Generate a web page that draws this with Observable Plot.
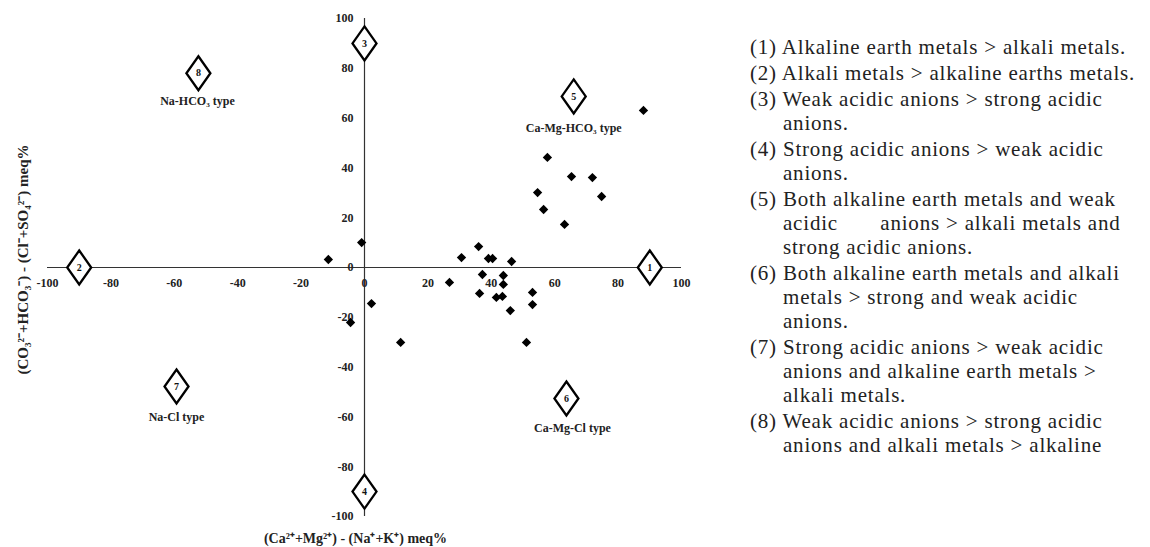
<!DOCTYPE html>
<html>
<head>
<meta charset="utf-8">
<script src="https://cdn.jsdelivr.net/npm/d3@7"></script>
<script src="https://cdn.jsdelivr.net/npm/@observablehq/plot@0.6"></script>
<style>
  html, body { margin: 0; padding: 0; background: #fff; }
  #wrap { position: relative; width: 1150px; height: 547px; overflow: hidden; }
  #chart { position: absolute; left: 0; top: 0; }
  #legend { position: absolute; left: 750px; top: 33px; width: 400px;
    font-family: "Liberation Serif", "Times New Roman", serif; font-size: 21px;
    line-height: 24px; color: #222; letter-spacing: 0.8px; }
  #legend div { padding-left: 33px; text-indent: -33px; white-space: nowrap; margin-top: 2px; }
</style>
</head>
<body>
<div id="wrap">
  <div id="chart"></div>
  <div id="legend"></div>
</div>
<script>
// Sample points: x = (Ca+Mg)-(Na+K) meq%, y = (CO3+HCO3)-(Cl+SO4) meq%
const sampleX = [-11.4, -0.9, 30.6, 36, 39.1, 40.4, 46.4, 54.6, 56.5, 57.7, 63.1, 65.3, 71.9, 74.8, 88,
                 26.8, 37.2, 36.3, 43.8, 43.8, 41.6, 43.5, 46, 53, 53, 51.1, 2.2, -4.4, 11.4];
const sampleY = [3.2, 10.0, 4.0, 8.4, 3.6, 3.6, 2.4, 30.1, 23.3, 44.2, 17.3, 36.5, 36.1, 28.5, 63.1,
                 -6.0, -2.8, -10.4, -3.2, -6.8, -12.0, -11.6, -17.3, -10.0, -14.9, -30.1, -14.5, -22.1, -30.1];

// Zone markers (numbered diamonds)
const zoneIds = ["1", "2", "3", "4", "5", "6", "7", "8"];
const zoneX = [90, -90, 0, 0, 66, 63.7, -59.3, -52.4];
const zoneY = [0, 0, 90, -90, 68.7, -52.6, -47.8, 78];

// Water type labels
const typeNames = ["Na-HCO\u2083 type", "Ca-Mg-HCO\u2083 type", "Na-Cl type", "Ca-Mg-Cl type"];
const typeX = [-52.7, 66, -59.3, 65.6];
const typeY = [66.7, 56, -60.2, -64.7];

// Tick labels
const xTicks = [-100, -80, -60, -40, -20, 0, 20, 40, 60, 80, 100];
const yTicks = [-100, -80, -60, -40, -20, 0, 20, 40, 60, 80, 100];

const xTitle = "(Ca\u00B2\u207A+Mg\u00B2\u207A) - (Na\u207A+K\u207A) meq%";
const yTitle = "(CO\u2083\u00B2\u207B+HCO\u2083\u207B) - (Cl\u207B+SO\u2084\u00B2\u207B) meq%";

const legendItems = [
  ["(1) Alkaline earth metals > alkali metals."],
  ["(2) Alkali metals > alkaline earths metals."],
  ["(3) Weak acidic anions > strong acidic", "anions."],
  ["(4) Strong acidic anions > weak acidic", "anions."],
  ["(5) Both alkaline earth metals and weak", "acidic\u00A0\u00A0\u00A0\u00A0\u00A0\u00A0 anions > alkali metals and", "strong acidic anions."],
  ["(6) Both alkaline earth metals and alkali", "metals > strong and weak acidic", "anions."],
  ["(7) Strong acidic anions > weak acidic", "anions and alkaline earth metals >", "alkali metals."],
  ["(8) Weak acidic anions > strong acidic", "anions and alkali metals > alkaline"]
];

const points = sampleX.map((x, i) => ({x, y: sampleY[i]}));
const zones = zoneIds.map((id, i) => ({id, x: zoneX[i], y: zoneY[i]}));
const types = typeNames.map((t, i) => ({t, x: typeX[i], y: typeY[i]}));

const tallDiamond = {
  draw(context) {
    context.moveTo(0, -17);
    context.lineTo(12, 0);
    context.lineTo(0, 17);
    context.lineTo(-12, 0);
    context.closePath();
  }
};

const font = "Liberation Serif, Times New Roman, serif";

const chart = Plot.plot({
  width: 700,
  height: 547,
  marginLeft: 47,
  marginRight: 19,
  marginTop: 18,
  marginBottom: 31,
  style: {fontFamily: font, background: "white"},
  x: {domain: [-100, 100], axis: null},
  y: {domain: [-100, 100], axis: null},
  marks: [
    Plot.ruleY([0], {x1: -100, x2: 100, stroke: "#333", strokeWidth: 1.2}),
    Plot.ruleX([0], {y1: -100, y2: 100, stroke: "#333", strokeWidth: 1.2}),
    Plot.text(xTicks, {x: d => d, y: 0, dy: 16, text: d => String(d), fontWeight: "bold", fontSize: 12, fill: "#222"}),
    Plot.text(yTicks, {x: 0, y: d => d, dx: -11, textAnchor: "end", text: d => String(d), fontWeight: "bold", fontSize: 12, fill: "#222"}),
    Plot.dot(points, {x: "x", y: "y", symbol: "diamond2", r: 4.2, fill: "black", stroke: "none"}),
    Plot.dot(zones, {x: "x", y: "y", symbol: tallDiamond, fill: "white", stroke: "black", strokeWidth: 2.3}),
    Plot.text(zones, {x: "x", y: "y", text: "id", fontWeight: "bold", fontSize: 10, fill: "#111"}),
    Plot.text(types, {x: "x", y: "y", text: "t", fontWeight: "bold", fontSize: 12, fill: "#222"}),
    Plot.text([xTitle], {frameAnchor: "bottom", textAnchor: "middle", lineAnchor: "middle", dx: -9, dy: 22, text: d => d, fontWeight: "bold", fontSize: 14, fill: "#222"}),
    Plot.text([yTitle], {frameAnchor: "left", textAnchor: "middle", lineAnchor: "middle", dx: -24, dy: -8, rotate: -90, text: d => d, fontWeight: "bold", fontSize: 15, fill: "#222"})
  ]
});
document.getElementById("chart").appendChild(chart);

const legend = document.getElementById("legend");
legendItems.forEach(lines => {
  const div = document.createElement("div");
  lines.forEach((ln, i) => {
    if (i > 0) div.appendChild(document.createElement("br"));
    div.appendChild(document.createTextNode(ln));
  });
  legend.appendChild(div);
});
</script>
</body>
</html>
